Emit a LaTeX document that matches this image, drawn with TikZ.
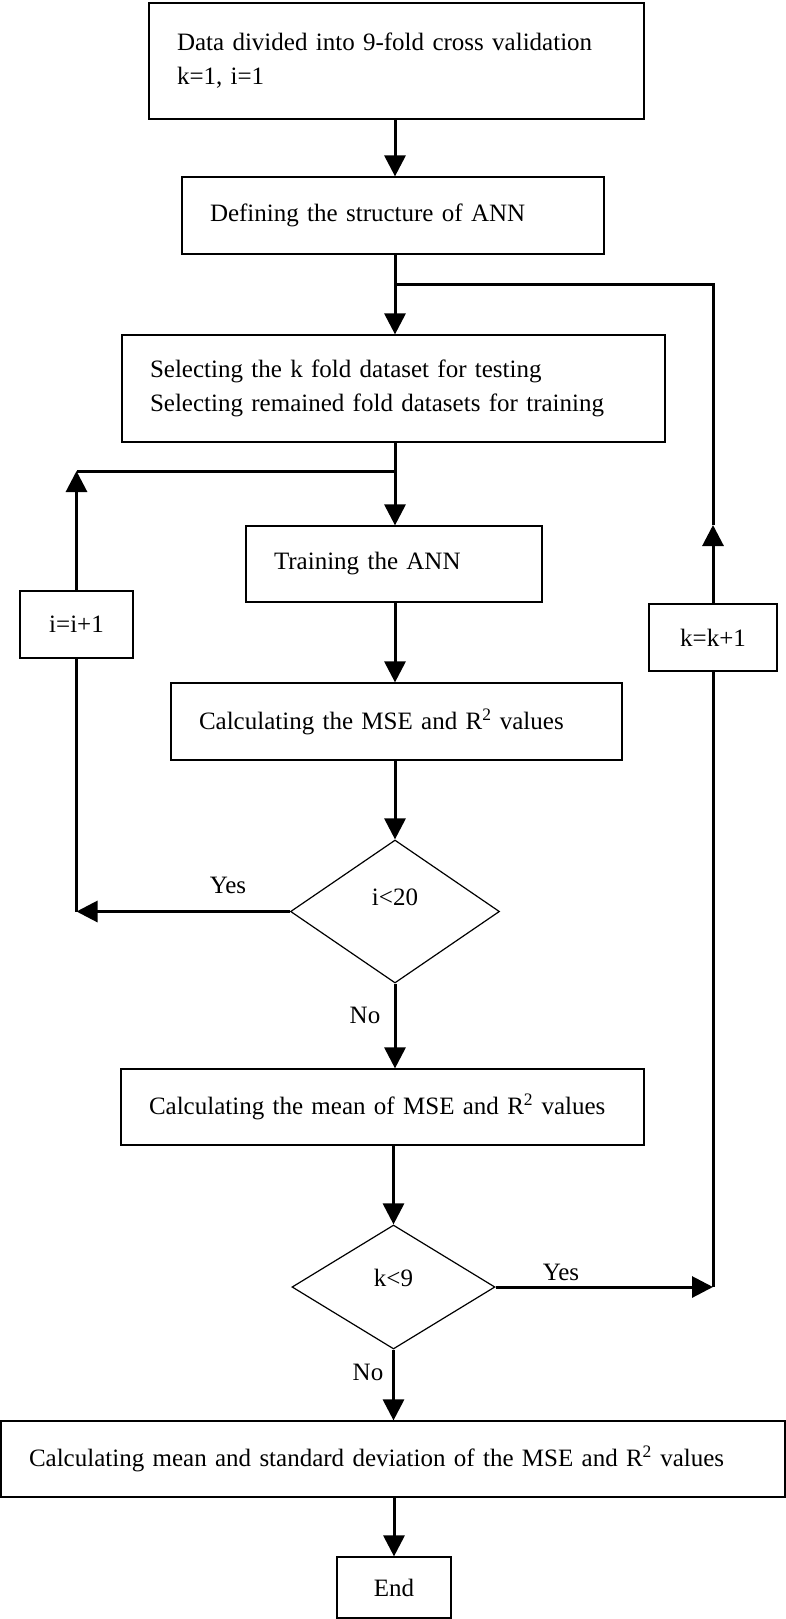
\documentclass[tikz,border=0pt]{standalone}
\usepackage{fontspec}
\setmainfont{Liberation Serif}
\usetikzlibrary{shapes.geometric,arrows.meta}
\newcommand{\flowwidth}{3pt}

\begin{document}
\begin{tikzpicture}[x=1pt,y=1pt,
        font=\fontsize{25}{34}\selectfont,
        >={Triangle[length=21pt,width=21pt]},
        stepbox/.style={draw,line width=1.2pt,inner xsep=28pt,inner ysep=0pt,align=left},
        smallbox/.style={draw,line width=1.2pt,inner sep=0pt,align=center},
        testbox/.style={draw,diamond,line width=1.2pt,inner sep=0pt},
        flow/.style={line width=\flowwidth}]
        \useasboundingbox (0,0) rectangle (786,-1619);
        \coordinate (spine) at (395,0);
        \node[stepbox,text width=439pt,minimum height=116pt] (data) at (396.5,-61) {Data divided into 9-fold cross validation\\k=1, i=1};
        \node[stepbox,text width=366pt,minimum height=77pt] (structure) at (393,-215.5) {Defining the structure of ANN};
        \draw[flow,->] (data.south -| spine) -- (structure.north -| spine);
        \node[stepbox,text width=487pt,minimum height=107pt] (select) at (393.5,-388.5) {Selecting the k fold dataset for testing\\Selecting remained fold datasets for training};
        \draw[flow,->] (structure.south -| spine) -- (select.north -| spine);
        \coordinate (kjoin) at (395,-284);
        \node[stepbox,text width=240pt,minimum height=76pt] (train) at (394,-564) {Training the ANN};
        \draw[flow,->] (select.south -| spine) -- (train.north -| spine);
        \coordinate (ijoin) at (395,-471);
        \node[stepbox,text width=395pt,minimum height=77pt] (mse) at (396.5,-721.5) {Calculating the MSE and R\textsuperscript{2} values};
        \draw[flow,->] (train.south -| spine) -- (mse.north -| spine);
        \node[testbox,minimum width=209pt,minimum height=143pt,label={[yshift=14pt]center:i<20}] (itest) at (395,-911.5) {};
        \draw[flow,->] (mse.south -| itest.north) -- (itest.north);
        \node[stepbox,text width=467pt,minimum height=76pt] (mean) at (382.5,-1107) {Calculating the mean of MSE and R\textsuperscript{2} values};
        \draw[flow,->] (itest.south) -- (itest.south |- mean.north);
        \node (noi) at (365,-1015) {No};
        \node[testbox,minimum width=203pt,minimum height=124pt,label={[yshift=9pt]center:k<9}] (ktest) at (393.5,-1287) {};
        \draw[flow,->] (mean.south -| ktest.north) -- (ktest.north);
        \node[stepbox,text width=728pt,minimum height=76pt] (final) at (393,-1459) {Calculating mean and standard deviation of the MSE and R\textsuperscript{2} values};
        \draw[flow,->] (ktest.south) -- (ktest.south |- final.north);
        \node (nok) at (368,-1372) {No};
        \node[smallbox,minimum width=114pt,minimum height=61pt] (finish) at (394,-1587.5) {End};
        \draw[flow,->] (final.south -| finish.north) -- (finish.north);
        % i loop
        \node[smallbox,minimum width=113pt,minimum height=67pt] (iinc) at (76.5,-624.5) {i=i+1};
        \node (yesi) at (228,-885) {Yes};
        \draw[flow,->] (itest.west) -- (itest.west -| iinc.south);
        \draw[flow] (itest.west -| iinc.south) -- (iinc.south);
        \draw[flow,->] (iinc.north) -- (iinc.north |- ijoin);
        \draw[flow] (iinc.north |- ijoin) -- (ijoin);
        % k loop
        \node[smallbox,minimum width=128pt,minimum height=67pt] (kinc) at (713,-637.5) {k=k+1};
        \node (yesk) at (561,-1272) {Yes};
        \draw[flow,->] (ktest.east) -- (ktest.east -| kinc.south);
        \draw[flow] (ktest.east -| kinc.south) -- (kinc.south);
        \coordinate (kmid) at (713,-525);
        \draw[flow,->] (kinc.north) -- (kmid);
        \draw[flow] (kmid) -- (kmid |- kjoin) -- (kjoin);
\end{tikzpicture}
\end{document}
